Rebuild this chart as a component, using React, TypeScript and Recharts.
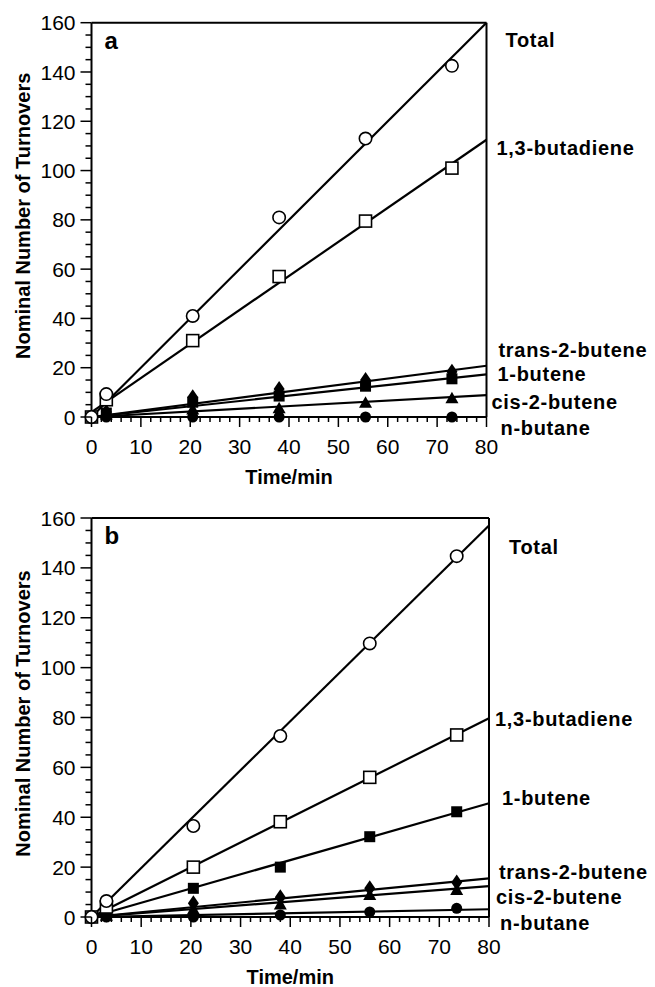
import React from "react";
import { ComposedChart, Line, Scatter, XAxis, YAxis, ReferenceLine } from "recharts";

// sampling times (min)
const times_a = [0, 3, 20.5, 38, 55.5, 73];
const times_b = [0, 3, 20.5, 38, 56, 73.5];

const names = ["Total", "1,3-butadiene", "trans-2-butene", "1-butene", "cis-2-butene", "n-butane"];
const markers = ["openCircle", "openSquare", "diamond", "square", "triangle", "dot"];

// panel a, nominal turnovers
const total_a = [0, 9.3, 41, 81, 113, 142.5];
const butadiene_a = [0, 7, 31, 57, 79.5, 101];
const trans2_a = [0, 2, 8, 11.4, 15, 18.4];
const butene1_a = [0, 1.6, 6, 8.5, 12.5, 15.5];
const cis2_a = [0, 1, 3, 3.6, 5.8, 7.6];
const butane_a = [0, 0, 0, 0, 0, 0];

// panel b
const total_b = [0, 6.4, 36.5, 72.6, 109.7, 144.7];
const butadiene_b = [0, 4, 20, 38.2, 56, 73];
const trans2_b = [0, 1, 5.5, 7.9, 11.5, 13.8];
const butene1_b = [0, 1, 11.5, 20, 32.2, 42.2];
const cis2_b = [0, 0.5, 3, 5, 8.8, 10.8];
const butane_b = [0, 0, 0, 0.8, 2, 3.5];

// fitted lines: value at t=0 and t=80
const fitStart_a = [0, 2, 0, 0, 0, 0];
const fitEnd_a = [160, 112.5, 20.8, 17.3, 8.9, 0];
const fitStart_b = [0, 0, 0, 0, 0, 0];
const fitEnd_b = [157, 79.7, 15.5, 45.6, 12.4, 3.1];

const yMajor = [0, 20, 40, 60, 80, 100, 120, 140, 160];
const xMajor = [0, 10, 20, 30, 40, 50, 60, 70, 80];
const yTicks = Array.from({ length: 33 }, (_, i) => i * 5);
const xTicks = Array.from({ length: 41 }, (_, i) => i * 2);

// label offsets from the line end (dx, dy)
const labelPos_a = [[19, 17], [10, 8], [12, -16], [11, -1], [5, 7], [14, 11]];
const labelPos_b = [[20, 21], [6, 1], [10, -7], [13, -5], [7, 11], [11, 14]];

const FONT = "'Liberation Sans', Arial, sans-serif";

function Marker(props: any) {
  const { cx, cy, kind } = props;
  if (cx == null || cy == null) return <g />;
  switch (kind) {
    case "openCircle":
      return <circle cx={cx} cy={cy} r={6.2} fill="#fff" stroke="#000" strokeWidth={1.6} />;
    case "openSquare":
      return <rect x={cx - 6} y={cy - 6} width={12} height={12} fill="#fff" stroke="#000" strokeWidth={1.6} />;
    case "square":
      return <rect x={cx - 5.5} y={cy - 5.5} width={11} height={11} fill="#000" />;
    case "diamond":
      return <polygon points={`${cx},${cy - 8} ${cx + 5.5},${cy} ${cx},${cy + 8} ${cx - 5.5},${cy}`} fill="#000" />;
    case "triangle":
      return <polygon points={`${cx},${cy - 6.5} ${cx + 6.5},${cy + 5} ${cx - 6.5},${cy + 5}`} fill="#000" />;
    default:
      return <circle cx={cx} cy={cy} r={5.5} fill="#000" />;
  }
}

function YTick(props: any) {
  const { x, y, payload } = props;
  const major = yMajor.includes(payload.value);
  return (
    <g>
      <line x1={x - (major ? 11 : 6)} x2={x} y1={y} y2={y} stroke="#000" strokeWidth={1.5} />
      {major && (
        <text x={x - 16} y={y} dy="0.36em" textAnchor="end" fontSize={21} fontFamily={FONT} fill="#000">
          {payload.value}
        </text>
      )}
    </g>
  );
}

function XTick(props: any) {
  const { x, y, payload } = props;
  const major = xMajor.includes(payload.value);
  return (
    <g>
      <line x1={x} x2={x} y1={y} y2={y + (major ? 10 : 5)} stroke="#000" strokeWidth={1.5} />
      {major && (
        <text x={x} y={y + 22} dy="0.71em" textAnchor="middle" fontSize={21} fontFamily={FONT} fill="#000">
          {payload.value}
        </text>
      )}
    </g>
  );
}

const endLabel = (name: string, dx: number, dy: number) => (p: any) => {
  if (p.index !== 1) return <g />;
  const px = p.x ?? p.viewBox?.x;
  const py = p.y ?? p.viewBox?.y;
  return (
    <text x={px + dx} y={py + dy} dy="0.36em" fontSize={20} fontWeight="bold" letterSpacing={0.7} fontFamily={FONT} fill="#000">
      {name}
    </text>
  );
};

type PanelProps = {
  letter: string;
  times: number[];
  values: number[][];
  fitStart: number[];
  fitEnd: number[];
  labelPos: number[][];
  height: number;
  margin: { top: number; right: number; bottom: number; left: number };
};

function Panel({ letter, times, values, fitStart, fitEnd, labelPos, height, margin }: PanelProps) {
  const order = [5, 4, 3, 2, 1, 0];
  return (
    <ComposedChart width={655} height={height} margin={margin}>
      <XAxis
        dataKey="x"
        type="number"
        domain={[0, 80]}
        ticks={xTicks}
        interval={0}
        height={1}
        tickSize={0}
        tickMargin={0}
        tickLine={false}
        tick={<XTick />}
        axisLine={{ stroke: "#000", strokeWidth: 2 }}
        label={(p: any) => {
          const vb = p.viewBox || {};
          return (
            <text x={vb.x + vb.width / 2} y={vb.y + 60} dy="0.36em" textAnchor="middle" fontSize={20} fontWeight="bold" fontFamily={FONT} fill="#000">
              Time/min
            </text>
          );
        }}
      />
      <YAxis
        dataKey="y"
        type="number"
        domain={[0, 160]}
        ticks={yTicks}
        interval={0}
        width={1}
        tickSize={0}
        tickMargin={0}
        tickLine={false}
        tick={<YTick />}
        axisLine={{ stroke: "#000", strokeWidth: 2 }}
        label={(p: any) => {
          const vb = p.viewBox || {};
          const cy = vb.y + vb.height / 2 - 4;
          return (
            <text transform={`translate(${vb.x + vb.width - 69}, ${cy}) rotate(-90)`} dy="0.36em" textAnchor="middle" fontSize={20} fontWeight="bold" fontFamily={FONT} fill="#000">
              Nominal Number of Turnovers
            </text>
          );
        }}
      />
      <ReferenceLine
        y={160}
        stroke="#000"
        strokeWidth={2}
        label={(p: any) => {
          const vb = p.viewBox || {};
          return (
            <text x={vb.x + 13} y={vb.y + 26} fontSize={24} fontWeight="bold" fontFamily={FONT} fill="#000">
              {letter}
            </text>
          );
        }}
      />
      <ReferenceLine x={80} stroke="#000" strokeWidth={2} />
      {names.map((name, i) => (
        <Line
          key={"fit-" + name}
          data={[
            { x: 0, y: fitStart[i] },
            { x: 80, y: fitEnd[i] },
          ]}
          dataKey="y"
          type="linear"
          stroke="#000"
          strokeWidth={2.2}
          dot={false}
          activeDot={false}
          isAnimationActive={false}
          label={endLabel(name, labelPos[i][0], labelPos[i][1])}
        />
      ))}
      {order.map((i) => (
        <Scatter
          key={"pts-" + names[i]}
          data={times.map((t, j) => ({ x: t, y: values[i][j] }))}
          dataKey="y"
          isAnimationActive={false}
          shape={(p: any) => <Marker {...p} kind={markers[i]} />}
        />
      ))}
    </ComposedChart>
  );
}

export default function App() {
  return (
    <div style={{ position: "absolute", left: 0, top: 0, width: 655, height: 987, background: "#fff" }}>
      <div style={{ position: "absolute", left: 0, top: 0 }}>
        <Panel
          letter="a"
          times={times_a}
          values={[total_a, butadiene_a, trans2_a, butene1_a, cis2_a, butane_a]}
          fitStart={fitStart_a}
          fitEnd={fitEnd_a}
          labelPos={labelPos_a}
          height={490}
          margin={{ top: 22.7, right: 168.5, bottom: 72, left: 90.5 }}
        />
      </div>
      <div style={{ position: "absolute", left: 0, top: 490 }}>
        <Panel
          letter="b"
          times={times_b}
          values={[total_b, butadiene_b, trans2_b, butene1_b, cis2_b, butane_b]}
          fitStart={fitStart_b}
          fitEnd={fitEnd_b}
          labelPos={labelPos_b}
          height={497}
          margin={{ top: 28, right: 166, bottom: 69, left: 90.5 }}
        />
      </div>
    </div>
  );
}
